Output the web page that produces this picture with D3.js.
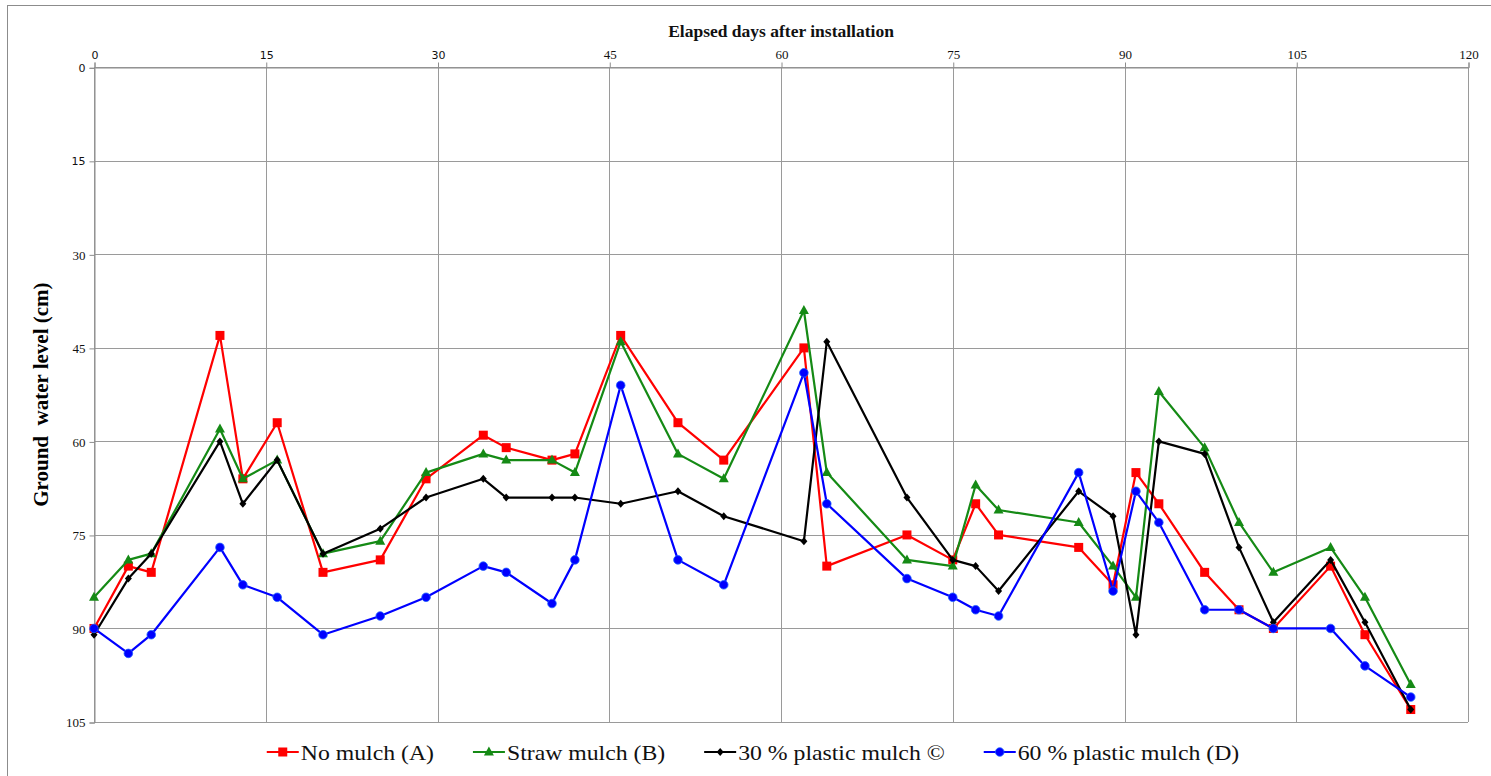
<!DOCTYPE html>
<html><head><meta charset="utf-8">
<script src="https://cdn.jsdelivr.net/npm/d3@7"></script>
<style>
html,body{margin:0;padding:0;background:#fff;}
svg{display:block;}
</style></head>
<body>
<svg id="chart" width="1491" height="776"></svg>
<script>
const days = [0,3,5,11,13,16,20,25,29,34,36,40,42,46,51,55,62,64,71,75,77,79,86,89,91,93,97,100,103,108,111,115];
const noMulch = [90,80,81,43,66,57,81,79,66,59,61,63,62,43,57,63,45,80,75,79,70,75,77,83,65,70,81,87,90,80,91,103];
const strawMulch = [85,79,78,58,66,63,78,76,65,62,63,63,65,44,62,66,39,65,79,80,67,71,73,80,85,52,61,73,81,77,85,99];
const plastic30 = [91,82,78,60,70,63,78,74,69,66,69,69,69,70,68,72,76,44,69,79,80,84,68,72,91,60,62,77,89,79,89,103];
const plastic60 = [90,94,91,77,83,85,91,88,85,80,81,86,79,51,79,83,49,70,82,85,87,88,65,84,68,73,87,87,90,90,96,101];
const xTicks = [0,15,30,45,60,75,90,105,120];
const yTicks = [0,15,30,45,60,75,90,105];
const seriesNames = ["No mulch (A)","Straw mulch (B)","30 % plastic mulch ©","60 % plastic mulch (D)"];
const xTitle = "Elapsed days after installation";
const yTitle = "Ground\u00a0 water level (cm)";

const series = [
  {name: seriesNames[0], values: noMulch, color: "#ff0000", marker: "square"},
  {name: seriesNames[1], values: strawMulch, color: "#158a15", marker: "triangle"},
  {name: seriesNames[2], values: plastic30, color: "#000000", marker: "diamond"},
  {name: seriesNames[3], values: plastic60, color: "#0000ff", marker: "circle"}
];

const svg = d3.select("#chart");
const serif = "Liberation Serif, Times New Roman, serif";
const sans = "DejaVu Sans, Verdana, sans-serif";

// outer frame
svg.append("rect").attr("x",7.5).attr("y",5.5).attr("width",1500).attr("height",800)
  .attr("fill","none").attr("stroke","#8c8c8c").attr("stroke-width",1);

const L = 94, R = 1468, T = 67.3, B = 722;
const x = d3.scaleLinear().domain([0,120]).range([L,R]);
const y = d3.scaleLinear().domain([0,105]).range([T,B]);

// grid
const g = svg.append("g");
g.selectAll("line.vg").data(xTicks).join("line")
  .attr("x1",d=>Math.round(x(d))+0.5).attr("x2",d=>Math.round(x(d))+0.5)
  .attr("y1",T).attr("y2",B).attr("stroke","#9a9a9a").attr("stroke-width",1);
g.selectAll("line.hg").data(yTicks).join("line")
  .attr("y1",d=>Math.round(y(d))+0.5).attr("y2",d=>Math.round(y(d))+0.5)
  .attr("x1",L).attr("x2",R).attr("stroke","#9a9a9a").attr("stroke-width",1);

// axes
const xAxis = d3.axisTop(x).tickValues(xTicks).tickSize(5).tickPadding(4).tickFormat(d3.format("d"));
const xa = svg.append("g").attr("transform",`translate(0.5,${Math.round(T)+0.5})`).call(xAxis);
xa.select(".domain").attr("stroke","#8c8c8c");
xa.selectAll(".tick line").attr("stroke","#8c8c8c");
xa.selectAll(".tick text").attr("fill","#111")
  .attr("font-family",d=>d<=30?sans:serif).attr("font-size",d=>d<=30?"11px":"13px");

const yAxis = d3.axisLeft(y).tickValues(yTicks).tickSize(5).tickPadding(4).tickFormat(d3.format("d"));
const ya = svg.append("g").attr("transform",`translate(${L+0.5},0.5)`).call(yAxis);
ya.select(".domain").attr("stroke","#8c8c8c");
ya.selectAll(".tick line").attr("stroke","#8c8c8c");
ya.selectAll(".tick text").attr("fill","#111")
  .attr("font-family",d=>d<=15?sans:serif).attr("font-size",d=>d<=15?"11px":"13px");

// titles
svg.append("text").attr("x",(L+R)/2).attr("y",37).attr("text-anchor","middle")
  .attr("font-family",serif).attr("font-weight","bold").attr("font-size","17.5px").attr("fill","#111")
  .text(xTitle);
svg.append("text").attr("transform",`translate(48,${(T+B)/2}) rotate(-90)`).attr("text-anchor","middle")
  .attr("font-family",serif).attr("font-weight","bold").attr("font-size","21px").attr("fill","#000")
  .text(yTitle);

function marker(sel, type, color){
  if(type==="square"){
    sel.append("rect").attr("x",-4.5).attr("y",-4.5).attr("width",9).attr("height",9).attr("fill",color);
  } else if(type==="triangle"){
    sel.append("path").attr("d","M0,-5.5L5,3.5L-5,3.5Z").attr("fill",color);
  } else if(type==="diamond"){
    sel.append("path").attr("d","M0,-4L3.5,0L0,4L-3.5,0Z").attr("fill",color);
  } else {
    sel.append("circle").attr("r",4.3).attr("fill",color).attr("stroke","#1f5fff").attr("stroke-width",0.8);
  }
}

const line = d3.line().x(d=>x(d[0])).y(d=>y(d[1]));
series.forEach(s=>{
  const pts = days.map((d,i)=>[d,s.values[i]]);
  const sg = svg.append("g");
  sg.append("path").attr("d",line(pts)).attr("fill","none").attr("stroke",s.color).attr("stroke-width",2.2)
    .attr("stroke-linejoin","round");
  sg.selectAll("g.m").data(pts).join("g").attr("transform",d=>`translate(${x(d[0])},${y(d[1])})`)
    .each(function(){ marker(d3.select(this), s.marker, s.color); });
});

// legend
const leg = svg.append("g");
const items = [];
const stretch = 1.08;
series.forEach((s,i)=>{
  const it = leg.append("g");
  it.append("line").attr("x1",0).attr("x2",32).attr("y1",0).attr("y2",0).attr("stroke",s.color).attr("stroke-width",2.2);
  const mg = it.append("g").attr("transform","translate(16,0)");
  marker(mg, s.marker, s.color);
  const t = it.append("text").attr("x",0).attr("y",7.5).attr("font-family",serif).attr("font-size","22px")
    .attr("fill","#111").text(s.name).attr("transform",`translate(34,0) scale(${stretch},1)`);
  const w = 34 + t.node().getComputedTextLength()*stretch;
  items.push({it,w});
});
const gap = 39;
const total = items.reduce((a,b)=>a+b.w,0) + gap*(items.length-1);
let start = 753 - total/2;
items.forEach(o=>{ o.it.attr("transform",`translate(${start},752)`); start += o.w + gap; });
</script>
</body></html>
